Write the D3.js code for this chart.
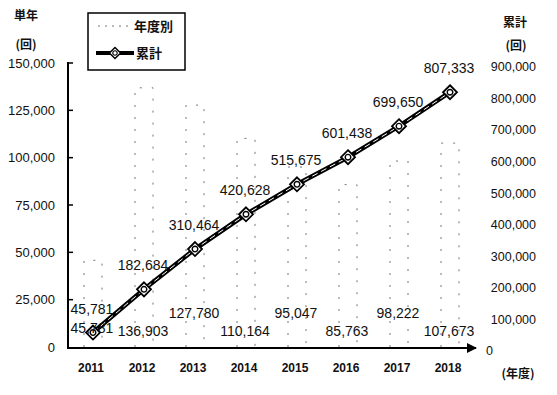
<!DOCTYPE html>
<html>
<head>
<meta charset="utf-8">
<script src="https://cdn.jsdelivr.net/npm/d3@7/dist/d3.min.js"></script>
<style>
  html, body { margin: 0; padding: 0; background: #fff; }
  svg { display: block; }
  text { fill: #111; }
</style>
</head>
<body>
<svg id="chart" width="557" height="395"></svg>
<script>
// Fiscal years and counts
const years = ["2011", "2012", "2013", "2014", "2015", "2016", "2017", "2018"];
const yearly = [45781, 136903, 127780, 110164, 95047, 85763, 98222, 107673];
const cumulative = [45781, 182684, 310464, 420628, 515675, 601438, 699650, 807333];
const leftTicks = [0, 25000, 50000, 75000, 100000, 125000, 150000];
const rightTicks = [0, 100000, 200000, 300000, 400000, 500000, 600000, 700000, 800000, 900000];

const svg = d3.select("#chart");
const numFont = "'Liberation Sans', Arial, sans-serif";
const jpFont = "'Noto Sans CJK JP', sans-serif";
const fmt = d3.format(",");

const x = d3.scalePoint().domain(years).range([93, 450]);
const yL = d3.scaleLinear().domain([0, 150000]).range([347, 63]);
const yR = d3.scaleLinear().domain([0, 900000]).range([347, 63]);

// Yearly bars: faint dotted outlines
const barW = 18;
svg.append("g").selectAll("path").data(years).join("path")
  .attr("d", (d, i) => {
    const x0 = x(d) - barW / 2, x1 = x(d) + barW / 2, y0 = yL(0), y1 = yL(yearly[i]);
    return `M${x0},${y0}V${y1}H${x1}V${y0}`;
  })
  .attr("fill", "none")
  .attr("stroke", "#777")
  .attr("stroke-width", 1)
  .attr("stroke-dasharray", "2,10");

// Left axis
const gL = svg.append("g").attr("transform", "translate(68,0)");
gL.append("line").attr("x1", 0).attr("x2", 0).attr("y1", yL(0)).attr("y2", yL(150000) - 1)
  .attr("stroke", "#000").attr("stroke-width", 2);
gL.selectAll(".tk").data(leftTicks.slice(1)).join("line")
  .attr("x1", 0).attr("x2", 5).attr("y1", d => yL(d)).attr("y2", d => yL(d))
  .attr("stroke", "#000").attr("stroke-width", 1.5);
svg.append("g").selectAll("text").data(leftTicks).join("text")
  .attr("x", 55).attr("y", d => yL(d)).attr("dy", "0.35em")
  .attr("text-anchor", "end")
  .attr("font-family", numFont).attr("font-size", 13)
  .text(d => fmt(d));

// Right axis labels (no axis line)
svg.append("g").selectAll("text").data(rightTicks).join("text")
  .attr("x", d => d === 0 ? 493 : 536).attr("y", d => yR(d) + 4).attr("dy", "0.35em")
  .attr("text-anchor", "end")
  .attr("font-family", numFont).attr("font-size", 12.5)
  .text(d => fmt(d));

// X axis with arrowhead
svg.append("defs").append("marker")
  .attr("id", "arrow").attr("viewBox", "0 0 10 10").attr("refX", 9).attr("refY", 5)
  .attr("markerWidth", 5).attr("markerHeight", 5).attr("orient", "auto")
  .append("path").attr("d", "M0,0L10,5L0,10z").attr("fill", "#000");
svg.append("line").attr("x1", 67).attr("x2", 476).attr("y1", yL(0) + 1).attr("y2", yL(0) + 1)
  .attr("stroke", "#000").attr("stroke-width", 2).attr("marker-end", "url(#arrow)");
svg.append("g").selectAll("text").data(years).join("text")
  .attr("x", d => x(d) - 2).attr("y", 372)
  .attr("text-anchor", "middle")
  .attr("font-family", numFont).attr("font-size", 12).attr("font-weight", "bold")
  .text(d => d);

// Axis titles
const titles = [
  { t: "単年", x: 26, y: 20 }, { t: "(回)", x: 26, y: 49 },
  { t: "累計", x: 515, y: 27 }, { t: "(回)", x: 516, y: 50 },
  { t: "(年度)", x: 518, y: 378 }
];
svg.append("g").selectAll("text").data(titles).join("text")
  .attr("x", d => d.x).attr("y", d => d.y)
  .attr("text-anchor", "middle")
  .attr("font-family", jpFont).attr("font-size", 12).attr("font-weight", "bold")
  .text(d => d.t);

// Cumulative line: black stroke with a thin white dashed core
const line = d3.line().x((d, i) => x(years[i])).y(d => yR(d));
svg.append("path").datum(cumulative).attr("d", line)
  .attr("fill", "none").attr("stroke", "#000").attr("stroke-width", 4.5);
svg.append("path").datum(cumulative).attr("d", line)
  .attr("fill", "none").attr("stroke", "#fff").attr("stroke-width", 1)
  .attr("stroke-dasharray", "6,4");

function marker(g) {
  g.append("path").attr("d", "M0,-7L7,0L0,7L-7,0Z")
    .attr("fill", "#fff").attr("stroke", "#000").attr("stroke-width", 1.8);
  g.append("circle").attr("r", 2.8).attr("fill", "none").attr("stroke", "#000").attr("stroke-width", 1.4);
}
svg.append("g").selectAll("g").data(cumulative).join("g")
  .attr("transform", (d, i) => `translate(${x(years[i])},${yR(d)})`)
  .each(function () { marker(d3.select(this)); });

// Cumulative value labels
svg.append("g").selectAll("text").data(cumulative).join("text")
  .attr("x", (d, i) => x(years[i]) - 1).attr("y", d => yR(d) - 19)
  .attr("text-anchor", "middle")
  .attr("font-family", numFont).attr("font-size", 14)
  .text(d => fmt(d));

// Yearly value labels, staggered along the bottom
svg.append("g").selectAll("text").data(yearly).join("text")
  .attr("x", (d, i) => x(years[i]) - 1)
  .attr("y", (d, i) => i === 0 ? 333 : (i % 2 === 0 ? 318 : 336))
  .attr("text-anchor", "middle")
  .attr("font-family", numFont).attr("font-size", 14)
  .text(d => fmt(d));

// Legend
const lg = svg.append("g");
lg.append("rect").attr("x", 88).attr("y", 13).attr("width", 97).attr("height", 57)
  .attr("fill", "#fff").attr("stroke", "#000").attr("stroke-width", 1.5);
lg.append("line").attr("x1", 98).attr("x2", 132).attr("y1", 26).attr("y2", 26)
  .attr("stroke", "#777").attr("stroke-width", 1).attr("stroke-dasharray", "2,5");
lg.append("text").attr("x", 134).attr("y", 31)
  .attr("font-family", jpFont).attr("font-size", 13).attr("font-weight", "bold").text("年度別");
lg.append("line").attr("x1", 96).attr("x2", 134).attr("y1", 53).attr("y2", 53)
  .attr("stroke", "#000").attr("stroke-width", 4);
lg.append("g").attr("transform", "translate(115,53) scale(0.8)").call(marker);
lg.append("text").attr("x", 136).attr("y", 58)
  .attr("font-family", jpFont).attr("font-size", 13).attr("font-weight", "bold").text("累計");
</script>
</body>
</html>
